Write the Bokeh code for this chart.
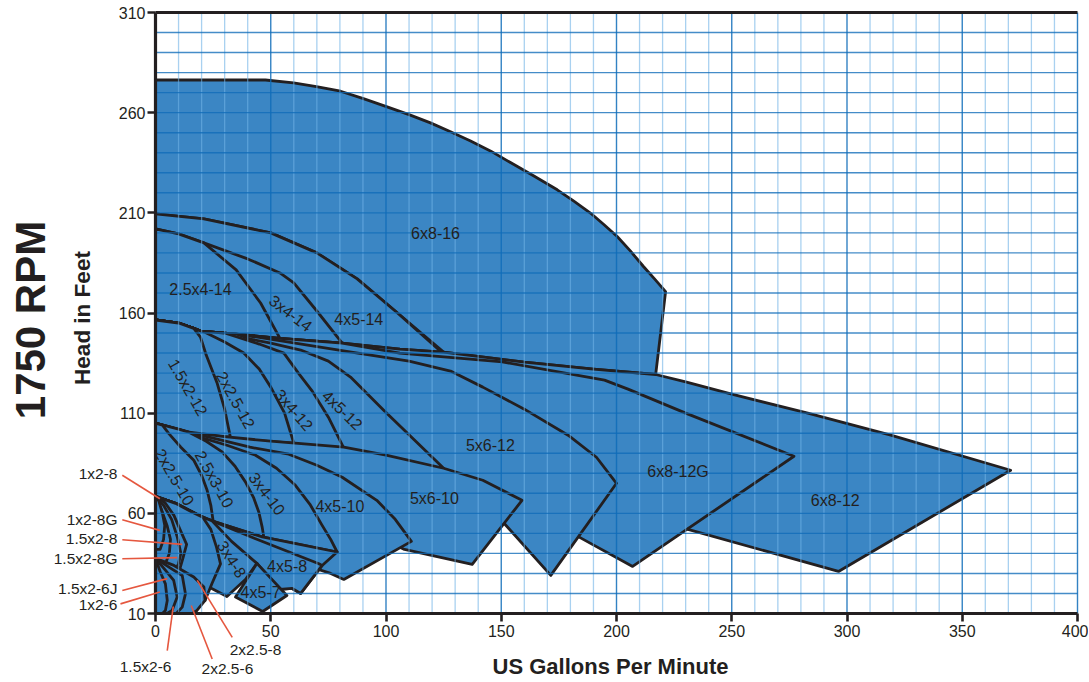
import math
from bokeh.plotting import figure
from bokeh.models import (Range1d, FixedTicker, LinearAxis, Label, Arrow, ColumnDataSource)
from bokeh.embed import file_html
from bokeh.resources import INLINE

# ---------------- data (US gpm, head ft) ----------------
x_ticks = [0, 50, 100, 150, 200, 250, 300, 350, 400]
y_ticks = [10, 60, 110, 160, 210, 260, 310]
x_grid_minor = [v for v in range(10, 400, 10) if v % 50]
x_grid_major = [50, 100, 150, 200, 250, 300, 350, 400]
y_grid = list(range(20, 310, 10))

# 16" family
q_6x8_16 = [0, 47.7, 59.9, 69.8, 80.3, 90.2, 100.5, 110, 119.3, 128, 136.7, 145.5, 154, 164, 174.3, 181.5,
            188.7, 194.5, 200.3, 206, 211.7, 216.5, 221.3, 217, 190, 160, 125, 105, 87.5, 70, 50, 21, 0]
h_6x8_16 = [276.3, 276.3, 274.9, 273, 270.7, 267, 262.9, 259, 254.9, 250.5, 245.9, 240.8, 235.1, 228.5, 221.5, 215.8,
            209.9, 204.2, 198.2, 191, 183.2, 177, 170.7, 129.3, 132, 135.5, 140.5, 160, 177, 190, 200, 207, 209.5]
# 14" family
q_4x5_14 = [0, 21, 50, 70, 87.5, 105, 124, 106, 81, 54, 35, 19.5, 16.6, 10, 0]
h_4x5_14 = [209.5, 207, 200, 190, 177, 160, 140.5, 142, 145, 147.3, 149.5, 151, 152.3, 155, 156.5]
q_3x4_14 = [0, 10, 21, 40, 54, 60, 70, 81, 54, 35, 19.5, 16.6, 10, 0]
h_3x4_14 = [202, 199.5, 195, 187, 180, 175, 161, 145, 147.3, 149.5, 151, 152.3, 155, 156.5]
q_25x4_14 = [0, 10, 21, 35, 45.6, 54, 35, 19.5, 16.6, 10, 0]
h_25x4_14 = [202, 199.5, 195, 181.5, 165, 147.3, 149.5, 151, 152.3, 155, 156.5]
# 12" family
q_6x8_12 = [0, 10, 16.6, 19.5, 35, 54, 81, 106, 125, 160, 190, 217, 230, 250, 283, 319, 371, 296.3, 231, 180, 125, 60, 0]
h_6x8_12 = [156.5, 155, 152.3, 151, 149.5, 147.3, 145, 142, 140.5, 135.5, 132, 129.3, 125.6, 119.5, 110, 99, 81.5, 31, 52, 70, 80, 92, 100]
q_6x8_12G = [0, 10, 16.6, 19.5, 35, 54, 81, 106, 150.5, 194.8, 205, 230, 277, 207, 184, 160, 125, 60, 0]
h_6x8_12G = [156.5, 155, 152.3, 151, 149.5, 147.3, 145, 140, 135.6, 126.5, 122, 110, 88.5, 33.5, 48, 62, 78, 92, 100]
q_5x6_12 = [0, 10, 16.6, 19.5, 35, 45, 85, 110, 128, 142, 160, 179, 191.3, 200, 171.5, 151.4, 140, 125, 60, 0]
h_5x6_12 = [156.5, 155, 152.3, 151, 149.5, 147.8, 140.5, 136, 131, 123, 112, 99, 88, 75, 29, 54.8, 63, 78, 92, 100]
q_4x5_12 = [0, 10, 16.6, 19.5, 35, 41, 50, 63, 75, 84.6, 99, 112, 125, 60, 0]
h_4x5_12 = [156.5, 155, 152.3, 151, 149.5, 147, 145, 141.5, 136, 128, 111.5, 97, 82.5, 92, 100]
q_3x4_12 = [0, 10, 16.6, 19.5, 30, 35.4, 45, 55.7, 62, 68, 75, 81.7, 40, 0]
h_3x4_12 = [156.5, 155, 152.3, 151, 150, 148, 144.5, 140, 130, 121, 108, 92.5, 96, 100]
q_2x25_12 = [0, 10, 16.6, 19.5, 21, 30, 38.3, 45, 50, 56, 60, 30, 0]
h_2x25_12 = [156.5, 155, 152.3, 151, 150.6, 145.5, 140, 132, 123, 110, 95, 97.5, 100]
q_15x2_12 = [0, 10, 16.6, 19.5, 22, 26.8, 30, 32.5, 15, 0]
h_15x2_12 = [156.5, 155, 152.3, 148, 139, 124.8, 112, 98, 99.5, 101]
# 10" family
q_5x6_10 = [0, 13.7, 30, 50, 81.7, 100, 125, 142, 159, 137.4, 108, 90, 0]
h_5x6_10 = [105, 100.7, 98.3, 96, 93, 89, 82.5, 76.5, 66.5, 34.5, 42, 52, 75]
q_4x5_10 = [0, 13.7, 25, 41, 57.8, 70, 81, 96, 104, 111, 81.7, 76, 0]
h_4x5_10 = [105, 100.7, 97.5, 93, 89.5, 84, 78, 66.5, 57, 46, 27, 30, 58]
q_3x4_10 = [0, 13.7, 18.8, 31, 43.4, 52.5, 60.7, 67, 72.3, 76, 78.8, 46.3, 21.7, 8.7, 0]
h_3x4_10 = [105, 100.7, 98.2, 94, 89, 82.5, 74, 64.5, 54, 47, 40.7, 48.2, 57.3, 65, 68.5]
q_25x3_10 = [0, 10, 14.5, 22, 28.9, 34.5, 39, 42.5, 44.8, 46.3, 47, 21.7, 8.7, 0]
h_25x3_10 = [105, 102, 100.5, 96, 90.7, 83.5, 75.7, 68, 60.7, 53, 48, 57.3, 65, 68.5]
q_2x25_10 = [0, 3, 5.8, 11, 16.6, 20, 22.4, 24, 25, 21.7, 8.7, 0]
h_2x25_10 = [105, 104, 99.8, 93, 86.5, 79, 71.5, 64, 56.3, 57.3, 65, 68.5]
# 8" family
q_4x5_8 = [0, 8.7, 21.7, 46.3, 78.8, 72.3, 63, 59.3, 54, 44, 20, 0]
h_4x5_8 = [68.5, 65, 57.3, 48.2, 40.7, 34, 20, 22.5, 22, 35, 47, 55]
q_4x5_8b = [0, 8.7, 18.8, 43.4, 70.9, 72.3, 63, 59.3, 54, 44, 20, 0]
h_4x5_8b = [68.5, 65, 59, 47.3, 34.8, 34, 20, 22.5, 22, 35, 47, 55]
q_3x4_8 = [0, 8.7, 18.8, 24.6, 33, 44, 39, 31, 24.6, 20, 0]
h_3x4_8 = [68.5, 65, 59, 56.2, 46, 35, 27, 18.5, 22.3, 25, 40]
q_2x25_8 = [0, 8.7, 16, 20.5, 24, 26.5, 28.2, 24.5, 21.5, 16, 0]
h_2x25_8 = [68.5, 65, 60.5, 58, 52, 43, 34.8, 25, 16.5, 13, 20]
q_15x2_8 = [0, 4, 8, 11, 13.5, 12, 10, 8, 0]
h_15x2_8 = [68.5, 65.5, 59, 51, 44.5, 38, 30, 25, 30]
q_15x2_8G = [0, 3.5, 7, 9.5, 11, 10, 7.5, 0]
h_15x2_8G = [68.3, 64, 57, 48, 40, 35, 28, 32]
q_1x2_8G = [0, 2.5, 5, 6.5, 6, 4, 0]
h_1x2_8G = [68, 62, 54, 47, 40, 34, 34]
q_1x2_8 = [0, 1.5, 3, 4, 3.5, 2, 0]
h_1x2_8 = [68.5, 66, 60, 54, 47, 42, 42]
# 7"
q_4x5_7 = [44, 57, 46.5, 34.7]
h_4x5_7 = [35, 19, 11, 18.2]
# 6" family
q_2x25_6 = [0, 8, 16.6, 21, 21.5, 18, 16, 0]
h_2x25_6 = [37.5, 34, 28.2, 23.2, 16.5, 11.5, 10, 10]
q_15x2_6 = [0, 6, 11.6, 13, 11.6, 9, 0]
h_15x2_6 = [37.5, 33, 29, 19.8, 13.2, 10, 10]
q_15x2_6J = [0, 4, 7.9, 9.4, 7.2, 5, 0]
h_15x2_6J = [37.5, 32, 26.5, 18.2, 11.5, 10, 10]
q_1x2_6 = [0, 2, 4.3, 5.1, 4.3, 3, 0]
h_1x2_6 = [37.5, 31, 24.8, 16.5, 11.5, 10, 10]

# drawing order: back -> front
regions = [
    (q_6x8_16, h_6x8_16), (q_4x5_14, h_4x5_14), (q_3x4_14, h_3x4_14), (q_25x4_14, h_25x4_14),
    (q_6x8_12, h_6x8_12), (q_6x8_12G, h_6x8_12G), (q_5x6_12, h_5x6_12), (q_4x5_12, h_4x5_12),
    (q_3x4_12, h_3x4_12), (q_2x25_12, h_2x25_12), (q_15x2_12, h_15x2_12),
    (q_5x6_10, h_5x6_10), (q_4x5_10, h_4x5_10), (q_3x4_10, h_3x4_10), (q_25x3_10, h_25x3_10),
    (q_2x25_10, h_2x25_10),
    (q_4x5_8, h_4x5_8), (q_4x5_8b, h_4x5_8b), (q_3x4_8, h_3x4_8), (q_2x25_8, h_2x25_8),
    (q_15x2_8, h_15x2_8), (q_15x2_8G, h_15x2_8G), (q_1x2_8G, h_1x2_8G), (q_1x2_8, h_1x2_8),
    (q_4x5_7, h_4x5_7),
    (q_2x25_6, h_2x25_6), (q_15x2_6, h_15x2_6), (q_15x2_6J, h_15x2_6J), (q_1x2_6, h_1x2_6),
]

# labels inside the chart: text, gpm, ft, angle (deg)
inner_text = ["6x8-16", "2.5x4-14", "3x4-14", "4x5-14", "1.5x2-12", "2x2.5-12", "3x4-12", "4x5-12",
              "5x6-12", "6x8-12G", "6x8-12", "5x6-10", "4x5-10", "3x4-10", "2.5x3-10", "2x2.5-10",
              "3x4-8", "4x5-8", "4x5-7"]
inner_q = [121.5, 19.5, 58.6, 88.2, 14, 34.7, 60, 81, 145.3, 226.7, 294.9, 121, 80, 48.3, 25.5, 8.2, 33, 57.1, 45.6]
inner_h = [199.5, 171.5, 159.8, 156.8, 122.8, 116.5, 111.5, 111.5, 94, 80.7, 66.5, 67.3, 63.2, 69.7, 77, 78, 37, 33.5, 20.7]
inner_ang = [0, 0, -37, 0, -60, -61, -49, -44, 0, 0, 0, 0, 0, -53, -61, -60, -58, 0, 0]

# callout labels outside the data area
call_text = ["1x2-8", "1x2-8G", "1.5x2-8", "1.5x2-8G", "1.5x2-6J", "1x2-6"]
call_h = [80, 57, 47.5, 37.5, 22.5, 14.5]
call_q = -16.5
bot_text = ["1.5x2-6", "2x2.5-6", "2x2.5-8"]
bot_q = [-4.3, 31.2, 43.4]
bot_h = [-16.5, -17.5, -8]
# leader lines: start (label side) -> end (inside region)
lead_q0 = [-14.4, -14.4, -14.4, -14.4, -14.4, -15.2, 5.1, 24.6, 33.3]
lead_h0 = [79, 56.8, 46.8, 37.3, 21.5, 14.8, -8.5, -12.7, -1.9]
lead_q1 = [1.9, 1.9, 11.6, 9.4, 5.1, 1.9, 7.7, 15.5, 18.1]
lead_h1 = [67.3, 51.5, 44.5, 37.9, 27.4, 20.7, 13.5, 14, 26.5]

# ---------------- styling ----------------
INK = "#231f20"
FILL = "#3b86c4"
FONT = "Liberation Sans"
W, H = 1088, 680
PX_X = 922 / 400.0      # pixels per gpm
PX_Y = 601 / 300.0      # pixels per ft
Q0, Q1 = x_ticks[0], x_ticks[-1]
H0, H1 = y_ticks[0], y_ticks[-1]

p = figure(width=W, height=H, output_backend="svg", toolbar_location=None, title=None,
           x_range=Range1d(Q0 - 155 / PX_X, Q1 + (W - 1077) / PX_X),
           y_range=Range1d(H0 - (H - 613) / PX_Y, H1 + 12 / PX_Y),
           min_border=0)
p.outline_line_color = None
p.xgrid.visible = False
p.ygrid.visible = False

src = ColumnDataSource(data=dict(xs=[r[0] for r in regions], ys=[r[1] for r in regions]))
p.patches("xs", "ys", source=src, fill_color=FILL, fill_alpha=1.0,
          line_color=INK, line_width=2.8, line_join="round")

# graph-paper grid drawn over the blue areas, limited to the data box
p.segment(x0=x_grid_minor, y0=[H0] * len(x_grid_minor), x1=x_grid_minor, y1=[H1] * len(x_grid_minor),
          line_color="#6fb2e6", line_alpha=0.6, line_width=1.3)
p.segment(x0=x_grid_major, y0=[H0] * len(x_grid_major), x1=x_grid_major, y1=[H1] * len(x_grid_major),
          line_color="#0f6cb8", line_alpha=0.85, line_width=1.4)
p.segment(x0=[Q0] * len(y_grid), y0=y_grid, x1=[Q1] * len(y_grid), y1=y_grid,
          line_color="#0f6cb8", line_alpha=0.78, line_width=1.4)

xa = p.xaxis[0]
ya = p.yaxis[0]
xa.fixed_location = H0
xa.bounds = (Q0, Q1)
ya.fixed_location = Q0
ya.bounds = (H0, H1)
for ax, tk in ((xa, x_ticks), (ya, y_ticks)):
    ax.ticker = FixedTicker(ticks=tk)
    ax.axis_line_width = 3.2
    ax.axis_line_color = INK
    ax.major_tick_line_width = 2.6
    ax.major_tick_line_color = INK
    ax.major_tick_out = 8
    ax.major_tick_in = 0
    ax.minor_tick_line_color = None
    ax.major_label_text_font = FONT
    ax.major_label_text_font_size = "16px"
    ax.major_label_text_color = INK
ya.major_label_standoff = 2
xa.major_label_standoff = 3

top = LinearAxis(ticker=FixedTicker(ticks=[]), axis_line_width=3.2, axis_line_color=INK,
                 major_tick_out=0, major_tick_in=0, major_label_standoff=0,
                 major_label_text_font_size="0px", minor_tick_line_color=None,
                 major_tick_line_color=None, fixed_location=H1, bounds=(Q0, Q1))
p.add_layout(top, "above")

for t, x, y, a in zip(inner_text, inner_q, inner_h, inner_ang):
    p.add_layout(Label(x=x, y=y, text=t, angle=math.radians(a), text_align="center",
                       text_baseline="middle", text_font=FONT, text_font_size="16px",
                       text_color=INK))

for x0, y0, x1, y1 in zip(lead_q0, lead_h0, lead_q1, lead_h1):
    p.add_layout(Arrow(end=None, x_start=x0, y_start=y0, x_end=x1, y_end=y1,
                       line_color="#e5573f", line_width=1.6))

for t, y in zip(call_text, call_h):
    p.add_layout(Label(x=call_q, y=y, text=t, text_align="right", text_baseline="middle",
                       text_font=FONT, text_font_size="15.5px", text_color=INK))
for t, x, y in zip(bot_text, bot_q, bot_h):
    p.add_layout(Label(x=x, y=y, text=t, text_align="center", text_baseline="middle",
                       text_font=FONT, text_font_size="15.5px", text_color=INK))

p.add_layout(Label(x=197.4, y=-16.5, text="US Gallons Per Minute", text_align="center",
                   text_baseline="middle", text_font=FONT, text_font_size="22px",
                   text_font_style="bold", text_color=INK))
p.add_layout(Label(x=-31.7, y=157.5, text="Head in Feet", angle=math.pi / 2, text_align="center",
                   text_baseline="middle", text_font=FONT, text_font_size="22.5px",
                   text_font_style="bold", text_color=INK))
p.add_layout(Label(x=-54.2, y=156.5, text="1750 RPM", angle=math.pi / 2, text_align="center",
                   text_baseline="middle", text_font=FONT,
                   text_font_size="42px", text_font_style="bold", text_color=INK))

open("out.html", "w").write(file_html(p, INLINE))
